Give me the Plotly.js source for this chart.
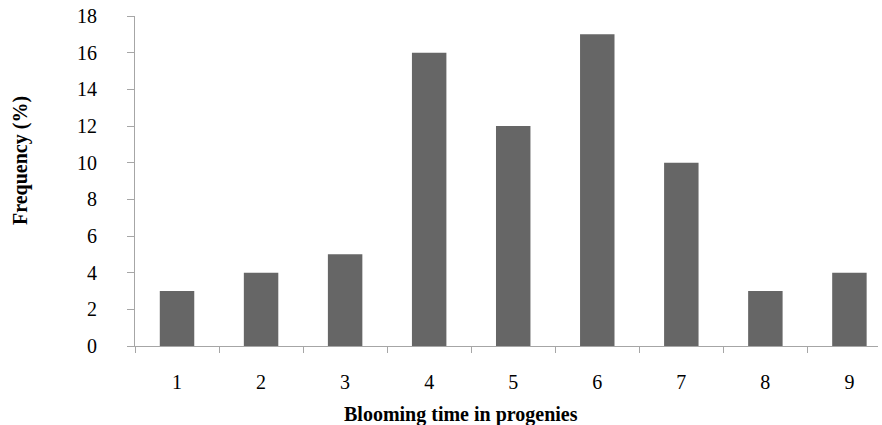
<!DOCTYPE html>
<html>
<head>
<meta charset="utf-8">
<script src="https://cdn.plot.ly/plotly-3.0.1.min.js"></script>
<style>html,body{margin:0;padding:0;background:#fff;}#chart{width:882px;height:425px;}</style>
</head>
<body>
<div id="chart"></div>
<script>
var categories = ["1", "2", "3", "4", "5", "6", "7", "8", "9"];
var frequency = [3, 4, 5, 16, 12, 17, 10, 3, 4];
var yTicks = [0, 2, 4, 6, 8, 10, 12, 14, 16, 18];
var xTitle = "Blooming time in progenies";
var yTitle = "Frequency (%)";

var font = "Liberation Serif, Times New Roman, serif";
var trace = {
  type: "bar",
  x: categories,
  y: frequency,
  width: 0.41,
  marker: {color: "#666666", line: {width: 0}},
  hoverinfo: "none"
};
var layout = {
  width: 882, height: 425,
  margin: {l: 135, r: 4, t: 16, b: 79},
  paper_bgcolor: "#ffffff", plot_bgcolor: "#ffffff",
  showlegend: false,
  font: {family: font, size: 20, color: "#000000"},
  xaxis: {
    type: "category",
    range: [-0.5, 8.34],
    tickson: "boundaries",
    ticks: "outside", ticklen: 6, tickcolor: "#a6a6a6", tickwidth: 1,
    showline: true, linecolor: "#a6a6a6", linewidth: 1,
    showgrid: false, zeroline: false,
    tickfont: {family: font, size: 20},
    ticklabelstandoff: 18
  },
  yaxis: {
    range: [0, 18],
    tickvals: yTicks,
    ticks: "outside", ticklen: 7, tickcolor: "#a6a6a6", tickwidth: 1,
    showline: true, linecolor: "#a6a6a6", linewidth: 1,
    showgrid: false, zeroline: false,
    tickfont: {family: font, size: 20},
    ticklabelstandoff: 26
  },
  annotations: [
    {text: "<b>" + xTitle + "</b>", xref: "paper", yref: "paper", x: 0.4388, y: -0.209,
     xanchor: "center", yanchor: "middle", showarrow: false, font: {family: font, size: 20}},
    {text: "<b>" + yTitle + "</b>", xref: "paper", yref: "paper", x: -0.1548, y: 0.5636,
     xanchor: "center", yanchor: "middle", textangle: -90, showarrow: false, font: {family: font, size: 20}}
  ]
};
Plotly.newPlot("chart", [trace], layout, {staticPlot: true, displayModeBar: false});
</script>
</body>
</html>
